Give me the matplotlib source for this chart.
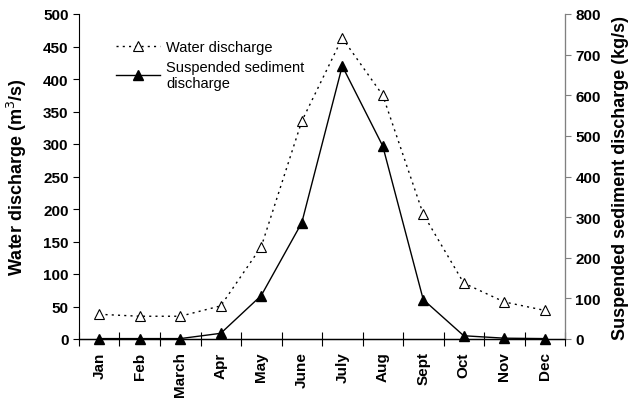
import matplotlib
matplotlib.use('Agg')
from matplotlib import pyplot as plt

plt.rcParams['font.family'] = ['Liberation Sans', 'DejaVu Sans']

months = ['Jan', 'Feb', 'March', 'Apr', 'May', 'June', 'July', 'Aug', 'Sept', 'Oct', 'Nov', 'Dec']
water = [38, 35, 35, 51, 142, 335, 463, 375, 192, 86, 57, 44]
sediment = [1, 1, 1, 14, 107, 286, 672, 475, 97, 8, 2, 1]

fig = plt.figure(figsize=(6.29, 4.02), dpi=100)
ax = fig.add_axes([79/629, 1 - 340/402, 486/629, 325/402])
ax2 = ax.twinx()

x = list(range(len(months)))
l1, = ax.plot(x, water, linestyle=(0, (1.5, 3)), color='black', lw=1,
              marker='^', mfc='white', mec='black', ms=6.5, mew=0.8,
              label='Water discharge', clip_on=False)
l2, = ax2.plot(x, sediment, linestyle='-', color='black', lw=1,
               marker='^', mfc='black', mec='black', ms=6.5,
               label='Suspended sediment\ndischarge', clip_on=False, zorder=5)

ax.set_xlim(-0.5, 11.5)
ax.set_ylim(0, 500)
ax2.set_ylim(0, 800)
ax.set_yticks(range(0, 501, 50))
ax2.set_yticks(range(0, 801, 100))
ax.set_xticks(x)
ax.set_xticklabels(months, rotation=90, fontweight='bold', fontsize=11)
ax.set_xticks([i - 0.5 for i in range(13)], minor=True)
ax.tick_params(axis='x', which='major', length=0, pad=9)
ax.tick_params(axis='x', which='minor', direction='inout', length=10, width=0.8)
for lab in ax.get_yticklabels() + ax2.get_yticklabels():
    lab.set_fontweight('bold')
    lab.set_fontsize(11)
ax.tick_params(axis='y', direction='out', length=4, width=0.8)
ax2.tick_params(axis='y', direction='out', length=4, width=0.8, colors='black')

for a in (ax, ax2):
    a.spines['top'].set_visible(False)
ax2.spines['right'].set_color('#808080')
ax2.tick_params(axis='y', color='#808080')
ax.spines['left'].set_visible(False)
ax2.spines['left'].set_visible(True)
ax2.spines['left'].set_color('black')
ax.spines['bottom'].set_linewidth(1)

ax.set_ylabel('Water discharge (m$^3$/s)', fontweight='bold', fontsize=13, labelpad=10)
ax2.set_ylabel('Suspended sediment discharge (kg/s)', fontweight='bold', fontsize=13, labelpad=8)

ax.legend([l1, l2], [l1.get_label(), l2.get_label()], loc='upper left',
          bbox_to_anchor=(0.05, 0.96), frameon=False, fontsize=10.5,
          handlelength=3.0, handletextpad=0.4, labelspacing=0.4)

fig.savefig('out.png', dpi=100)
